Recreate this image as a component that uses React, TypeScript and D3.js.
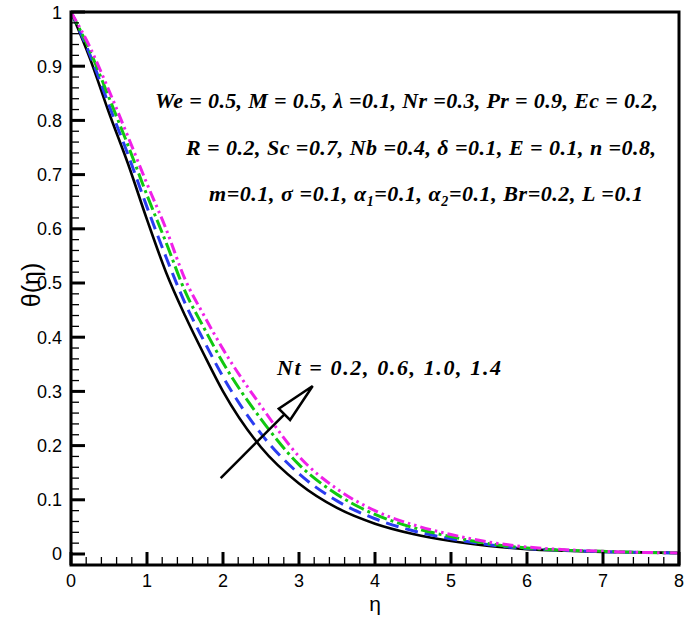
import React, { useEffect, useRef } from 'react';
import * as d3 from 'd3';

// η grid and θ(η) profiles, one per Nt value
const ETA = [0, 0.25, 0.5, 0.75, 1, 1.25, 1.5, 1.75, 2, 2.5, 3, 3.5, 4, 4.5, 5, 5.5, 6, 6.5, 7, 7.5, 8];
const NT_02 = [1, 0.914, 0.814, 0.72, 0.617, 0.52, 0.44, 0.368, 0.3, 0.197, 0.13, 0.085, 0.056, 0.037, 0.024, 0.015, 0.009, 0.006, 0.004, 0.003, 0.002];
const NT_06 = [1, 0.921, 0.828, 0.737, 0.64, 0.548, 0.463, 0.393, 0.327, 0.222, 0.148, 0.098, 0.065, 0.043, 0.028, 0.017, 0.01, 0.007, 0.004, 0.003, 0.002];
const NT_10 = [1, 0.928, 0.842, 0.754, 0.662, 0.575, 0.485, 0.417, 0.353, 0.249, 0.165, 0.11, 0.073, 0.049, 0.032, 0.019, 0.011, 0.007, 0.005, 0.003, 0.002];
const NT_14 = [1, 0.935, 0.855, 0.77, 0.683, 0.6, 0.507, 0.44, 0.378, 0.273, 0.18, 0.12, 0.08, 0.054, 0.036, 0.022, 0.013, 0.008, 0.005, 0.003, 0.002];

const X_TICKS = [0, 1, 2, 3, 4, 5, 6, 7, 8];
const Y_TICKS = [0, 0.1, 0.2, 0.3, 0.4, 0.5, 0.6, 0.7, 0.8, 0.9, 1];

const SERIES = [
  { values: NT_02, color: '#000000', dash: null, width: 2.6 },
  { values: NT_06, color: '#2a3cf0', dash: '13 7', width: 3 },
  { values: NT_10, color: '#10c810', dash: '14 4 3 4', width: 3 },
  { values: NT_14, color: '#f020e8', dash: '11 4 2.5 4 2.5 4', width: 3 },
];

const PARAM_LINES = [
  'We = 0.5, M = 0.5, λ =0.1, Nr =0.3, Pr = 0.9, Ec = 0.2,',
  'R = 0.2, Sc =0.7, Nb =0.4, δ =0.1,  E = 0.1, n =0.8,',
];

export default function App() {
  const svgRef = useRef<SVGSVGElement | null>(null);

  useEffect(() => {
    const svgEl = svgRef.current;
    if (!svgEl) return;
    const svg = d3.select(svgEl);
    svg.selectAll('*').remove();

    const left = 71;
    const right = 679;
    const top = 12;
    const bottom = 565;

    const x = d3.scaleLinear().domain([0, 8]).range([left, right]);
    const y = d3.scaleLinear().domain([-0.0203, 1]).range([bottom, top]);

    const sans = '"Liberation Sans", Arial, sans-serif';
    const serif = '"Liberation Serif", "Times New Roman", serif';

    svg.append('rect').attr('width', 685).attr('height', 620).attr('fill', '#fff');

    svg
      .append('clipPath')
      .attr('id', 'plot-clip')
      .append('rect')
      .attr('x', left)
      .attr('y', top)
      .attr('width', right - left)
      .attr('height', bottom - top);

    // Curves
    const line = d3
      .line<number>()
      .x((_, i) => x(ETA[i]))
      .y(d => y(d))
      .curve(d3.curveMonotoneX);

    const curves = svg.append('g').attr('clip-path', 'url(#plot-clip)');
    SERIES.forEach(s => {
      curves
        .append('path')
        .attr('d', line(s.values))
        .attr('fill', 'none')
        .attr('stroke', s.color)
        .attr('stroke-width', s.width)
        .attr('stroke-dasharray', s.dash);
    });

    // Minor + major ticks (inside)
    const ticks = svg.append('g').attr('stroke', '#000');
    d3.range(0, 8.001, 0.2).forEach(v => {
      const major = Math.abs(v - Math.round(v)) < 1e-6;
      ticks
        .append('line')
        .attr('x1', x(v))
        .attr('x2', x(v))
        .attr('y1', bottom)
        .attr('y2', bottom - (major ? 13 : 8))
        .attr('stroke-width', major ? 3 : 1.3);
    });
    d3.range(0, 1.0001, 0.02).forEach(v => {
      const major = Math.abs(v * 10 - Math.round(v * 10)) < 1e-6;
      ticks
        .append('line')
        .attr('x1', left)
        .attr('x2', left + (major ? 14 : 8))
        .attr('y1', y(v))
        .attr('y2', y(v))
        .attr('stroke-width', major ? 3 : 1.3);
    });

    // Frame
    svg
      .append('rect')
      .attr('x', left)
      .attr('y', top)
      .attr('width', right - left)
      .attr('height', bottom - top)
      .attr('fill', 'none')
      .attr('stroke', '#000')
      .attr('stroke-width', 3);

    // Tick labels
    svg
      .append('g')
      .selectAll('text')
      .data(X_TICKS)
      .enter()
      .append('text')
      .attr('x', d => x(d))
      .attr('y', 587)
      .attr('text-anchor', 'middle')
      .attr('font-family', sans)
      .attr('font-size', 18)
      .text(d => String(d));

    svg
      .append('g')
      .selectAll('text')
      .data(Y_TICKS)
      .enter()
      .append('text')
      .attr('x', 62)
      .attr('y', d => y(d) + 6.5)
      .attr('text-anchor', 'end')
      .attr('font-family', sans)
      .attr('font-size', 18)
      .text(d => (d === 0 || d === 1 ? String(d) : d.toFixed(1)));

    // Axis titles
    svg
      .append('text')
      .attr('x', x(4))
      .attr('y', 611)
      .attr('text-anchor', 'middle')
      .attr('font-family', sans)
      .attr('font-size', 21)
      .text('η');

    svg
      .append('text')
      .attr('transform', 'translate(40,285) rotate(-90)')
      .attr('text-anchor', 'middle')
      .attr('font-family', sans)
      .attr('font-size', 25)
      .text('θ(η)');

    // Parameter block
    const params = svg
      .append('g')
      .attr('font-family', serif)
      .attr('font-weight', 'bold')
      .attr('font-style', 'italic')
      .attr('font-size', 22);

    params.append('text').attr('x', 155).attr('y', 108).attr('textLength', 503).attr('lengthAdjust', 'spacing').text(PARAM_LINES[0]);
    params.append('text').attr('x', 186).attr('y', 155).attr('textLength', 470).attr('lengthAdjust', 'spacing').text(PARAM_LINES[1]);

    const l3 = params.append('text').attr('x', 209).attr('y', 201).attr('textLength', 434).attr('lengthAdjust', 'spacing');
    l3.append('tspan').text('m=0.1, σ =0.1, α');
    l3.append('tspan').attr('font-size', 14).attr('dy', 5).text('1');
    l3.append('tspan').attr('dy', -5).text('=0.1, α');
    l3.append('tspan').attr('font-size', 14).attr('dy', 5).text('2');
    l3.append('tspan').attr('dy', -5).text('=0.1, Br=0.2, L =0.1');

    // Arrow annotation (data coordinates)
    const tail: [number, number] = [x(1.97), y(0.14)];
    const tip: [number, number] = [x(3.18), y(0.31)];
    const dx = tip[0] - tail[0];
    const dy = tip[1] - tail[1];
    const len = Math.hypot(dx, dy);
    const ux = dx / len;
    const uy = dy / len;
    const headLen = 40;
    const halfW = 8;
    const base: [number, number] = [tip[0] - ux * headLen, tip[1] - uy * headLen];

    svg
      .append('line')
      .attr('x1', tail[0])
      .attr('y1', tail[1])
      .attr('x2', base[0])
      .attr('y2', base[1])
      .attr('stroke', '#000')
      .attr('stroke-width', 2.5);

    svg
      .append('polygon')
      .attr(
        'points',
        [
          tip,
          [base[0] - uy * halfW, base[1] + ux * halfW],
          [base[0] + uy * halfW, base[1] - ux * halfW],
        ]
          .map(p => p.join(','))
          .join(' ')
      )
      .attr('fill', '#fff')
      .attr('stroke', '#000')
      .attr('stroke-width', 2.5);

    svg
      .append('text')
      .attr('x', 277)
      .attr('y', 375)
      .attr('font-family', serif)
      .attr('font-weight', 'bold')
      .attr('font-style', 'italic')
      .attr('font-size', 22)
      .attr('textLength', 224)
      .attr('lengthAdjust', 'spacing')
      .text('Nt = 0.2, 0.6, 1.0, 1.4');
  }, []);

  return (
    <svg
      ref={svgRef}
      width={685}
      height={620}
      style={{ position: 'absolute', left: 0, top: 0, display: 'block' }}
    />
  );
}
